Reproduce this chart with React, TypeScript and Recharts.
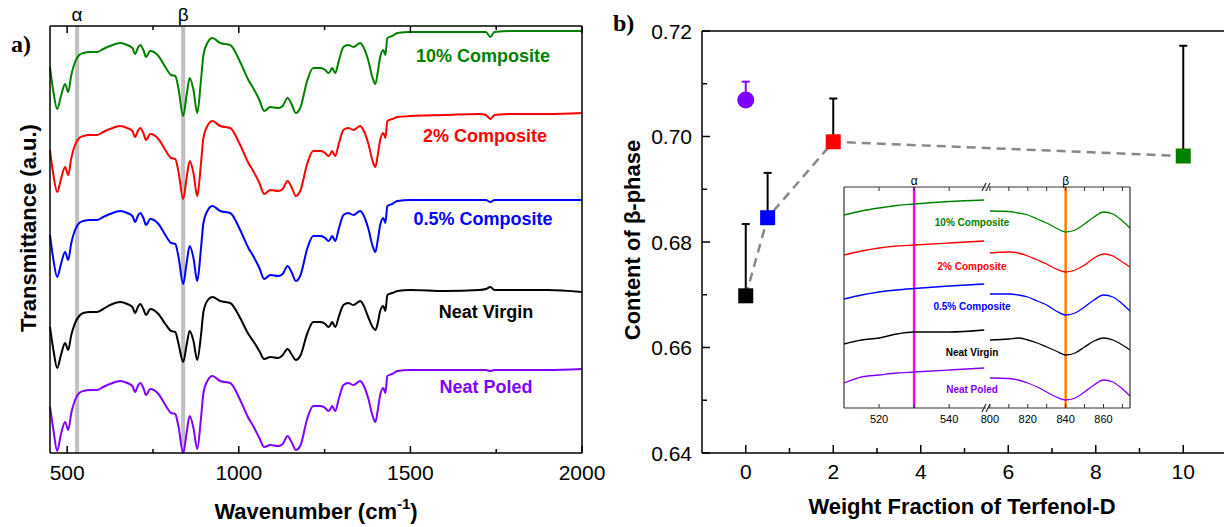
import React from 'react';
import {
  LineChart,
  Line,
  XAxis,
  YAxis,
  ReferenceArea,
  ReferenceLine,
  Label,
  ScatterChart,
  Scatter,
  ErrorBar,
} from 'recharts';

const SANS = '"Liberation Sans", Arial, Helvetica, sans-serif';
const SERIF = '"Liberation Serif", "Times New Roman", serif';

// ---- panel a: FTIR spectra (stacked, arbitrary units) ----
const wavenumbers = [
  450, 460, 471, 482, 494, 503, 512, 523, 535, 547,
  567, 587, 605, 625, 655, 675, 690, 698, 706, 713,
  722, 730, 742, 766, 786, 803, 815, 824, 838, 848,
  857, 868, 879, 890, 897, 910, 923, 946, 975, 1004,
  1028, 1042, 1060, 1074, 1092, 1115, 1128, 1142, 1155, 1166,
  1179, 1200, 1217, 1238, 1252, 1261, 1267, 1272, 1281, 1292,
  1305, 1319, 1334, 1354, 1363, 1377, 1390, 1398, 1405, 1412,
  1421, 1427, 1433, 1447, 1462, 1500, 1600, 1700, 1720, 1733,
  1745, 1800, 1900, 2000,
];

const composite10 = [
  386, 361, 344, 357, 369, 361, 378, 391, 398, 400,
  401, 401, 404, 407, 410, 408, 405, 399, 405, 408,
  403, 396, 402, 397, 386, 378, 377, 365, 337, 358,
  375, 363, 340, 373, 398, 411, 415, 410, 408, 391,
  373, 365, 353, 342, 346, 345, 347, 355, 348, 340,
  345, 373, 385, 385, 383, 380, 382, 385, 380, 393,
  406, 408, 406, 410, 406, 393, 375, 369, 381, 396,
  403, 398, 415, 417, 420, 421, 421, 421, 421, 416,
  421, 422, 422, 422,
];

const composite2 = [
  303, 278, 261, 274, 286, 278, 295, 308, 315, 317,
  318, 318, 321, 324, 327, 325, 322, 316, 322, 325,
  320, 313, 319, 314, 303, 295, 294, 282, 254, 275,
  292, 280, 257, 290, 315, 328, 332, 327, 325, 308,
  290, 282, 270, 259, 263, 262, 264, 272, 265, 257,
  262, 290, 302, 302, 300, 297, 299, 302, 297, 310,
  323, 325, 323, 327, 323, 310, 292, 286, 298, 313,
  320, 315, 332, 334, 336, 337, 338, 339, 338, 334,
  338, 339, 339, 340,
];

const composite05 = [
  218, 193, 176, 189, 201, 193, 210, 223, 230, 232,
  233, 233, 236, 239, 242, 240, 237, 231, 237, 240,
  235, 228, 234, 229, 218, 210, 209, 197, 169, 190,
  207, 195, 172, 205, 230, 243, 247, 242, 240, 223,
  205, 197, 185, 174, 178, 177, 179, 187, 180, 172,
  177, 205, 217, 217, 215, 212, 214, 217, 212, 225,
  238, 240, 238, 242, 238, 225, 207, 201, 213, 228,
  235, 230, 247, 249, 252, 253, 253, 253, 253, 251,
  253, 253, 253, 253,
];

const neatVirgin = [
  126, 103, 85, 98, 110, 103, 118, 130, 137, 140,
  141, 141, 144, 148, 151, 149, 146, 140, 146, 149,
  144, 138, 144, 139, 129, 122, 121, 110, 91, 108,
  122, 112, 93, 118, 141, 153, 156, 152, 150, 135,
  119, 112, 102, 94, 96, 95, 98, 104, 98, 93,
  97, 120, 131, 131, 129, 126, 128, 131, 126, 137,
  148, 150, 148, 152, 148, 136, 126, 123, 130, 142,
  147, 142, 158, 160, 162, 163, 162, 163, 164, 166,
  163, 163, 163, 161,
];

const neatPoled = [
  46, 23, 2, 19, 31, 23, 40, 53, 60, 62,
  63, 63, 66, 69, 72, 70, 67, 61, 67, 70,
  65, 58, 64, 59, 48, 40, 39, 27, 0, 20,
  37, 25, 4, 35, 60, 73, 77, 72, 70, 53,
  35, 27, 15, 6, 8, 7, 9, 17, 10, 3,
  7, 35, 47, 47, 45, 42, 44, 47, 42, 55,
  68, 70, 68, 72, 68, 55, 37, 31, 43, 58,
  65, 60, 77, 79, 82, 83, 83, 83, 83, 82,
  83, 83, 83, 84,
];

const ftirTicks = [500, 750, 1000, 1250, 1500, 1750, 2000];

// ---- inset: zoom on the alpha / beta bands ----
const insetLeftWn = [510, 515, 520, 525, 530, 540, 550];
const insetLeft10 = [193, 197, 200, 202.5, 204, 206.5, 208];
const insetLeft2 = [153, 157, 160, 162, 163, 165, 167];
const insetLeft05 = [109, 113, 116, 118, 119.5, 122, 124];
const insetLeftVirgin = [64, 68, 70, 74, 76, 76, 78];
const insetLeftPoled = [25, 31, 33, 35, 36, 38, 40];

const insetRightWn = [800, 810, 815, 820, 825, 830, 835, 840, 845, 850, 855, 860, 865, 870, 874];
const insetRight10 = [197, 196.5, 195, 193, 189, 185, 180, 176, 178, 184, 191, 196, 194, 187, 180];
const insetRight2 = [155, 156, 155, 152, 148, 144, 139, 136, 138, 143, 150, 154, 152, 146, 141];
const insetRight05 = [114, 114, 113, 111, 107, 103, 97, 93, 95, 101, 108, 113, 111, 104, 97];
const insetRightVirgin = [68, 69, 70, 68, 65, 61, 57, 53, 55, 61, 67, 70, 68, 63, 58];
const insetRightPoled = [30, 29.5, 28, 25, 21, 16, 11, 8, 10, 16, 23, 28, 26, 19, 12];

const insetLeftTicks = [520, 530, 540];
const insetRightTicks = [800, 810, 820, 830, 840, 850, 860, 870];

// ---- panel b: beta-phase content ----
const sampleNames = ['Neat Poled', 'Neat Virgin', '0.5% Composite', '2% Composite', '10% Composite'];
const weightFraction = [0, 0, 0.5, 2, 10];
const betaContent = [0.7069, 0.6698, 0.6846, 0.699, 0.6963];
const betaError = [0.0035, 0.0136, 0.0085, 0.0082, 0.0209];

const fracTicks = [0, 1, 2, 3, 4, 5, 6, 7, 8, 9, 10];
const betaTicks = [0.64, 0.65, 0.66, 0.67, 0.68, 0.69, 0.7, 0.71, 0.72];

const keys = ['c10', 'c2', 'c05', 'virgin', 'poled'];
const colors: Record<string, string> = {
  c10: '#008000',
  c2: '#ff0000',
  c05: '#0000ff',
  virgin: '#000000',
  poled: '#8000ff',
};
const nameColors: Record<string, string> = {
  'Neat Poled': '#8000ff',
  'Neat Virgin': '#000000',
  '0.5% Composite': '#0000ff',
  '2% Composite': '#ff0000',
  '10% Composite': '#008000',
};

const ftirRows = wavenumbers.map((wn, i) => ({
  wn,
  c10: composite10[i],
  c2: composite2[i],
  c05: composite05[i],
  virgin: neatVirgin[i],
  poled: neatPoled[i],
}));

const insetLeftRows = insetLeftWn.map((wn, i) => ({
  wn,
  c10: insetLeft10[i],
  c2: insetLeft2[i],
  c05: insetLeft05[i],
  virgin: insetLeftVirgin[i],
  poled: insetLeftPoled[i],
}));

const insetRightRows = insetRightWn.map((wn, i) => ({
  wn,
  c10: insetRight10[i],
  c2: insetRight2[i],
  c05: insetRight05[i],
  virgin: insetRightVirgin[i],
  poled: insetRightPoled[i],
}));

const sampleRows = sampleNames.map((name, i) => ({
  name,
  x: weightFraction[i],
  y: betaContent[i],
  err: [0, betaError[i]],
}));
// dashed guide joins the Terfenol-D series (everything but the poled film)
const trendRows = sampleRows.filter((r) => r.name !== 'Neat Poled');

type Side = 'bottom' | 'top' | 'left' | 'right';
interface TickOpts {
  major: number;
  minor: number;
  format?: (v: number) => string;
  fontSize?: number;
  gap?: number;
  color?: string;
  width?: number;
}

// inward ticks, labels only on the major ones
const makeTick = (side: Side, isMajor: (v: number) => boolean, opts: TickOpts) => (props: any) => {
  const { x, y, payload } = props;
  const v = payload.value as number;
  const major = isMajor(v);
  const len = major ? opts.major : opts.minor;
  let x2 = x;
  let y2 = y;
  if (side === 'bottom') y2 = y - len;
  if (side === 'top') y2 = y + len;
  if (side === 'left') x2 = x + len;
  if (side === 'right') x2 = x - len;
  const fs = opts.fontSize ?? 21;
  let label = null;
  if (opts.format && major) {
    if (side === 'bottom') {
      label = (
        <text x={x} y={y + (opts.gap ?? 27)} textAnchor="middle" fontSize={fs} fontFamily={SANS} fill="#000">
          {opts.format(v)}
        </text>
      );
    }
    if (side === 'left') {
      label = (
        <text x={x - (opts.gap ?? 10)} y={y + fs * 0.36} textAnchor="end" fontSize={fs} fontFamily={SANS} fill="#000">
          {opts.format(v)}
        </text>
      );
    }
  }
  return (
    <g>
      <line x1={x} y1={y} x2={x2} y2={y2} stroke={opts.color ?? '#000'} strokeWidth={opts.width ?? 1.5} />
      {label}
    </g>
  );
};

const AXIS = { stroke: '#000', strokeWidth: 1.5 };
const INSET_AXIS = { stroke: '#333', strokeWidth: 1.2 };

const isFtirMajor = (v: number) => v % 500 === 0;
const isFracMajor = (v: number) => v % 2 === 0;
const isBetaMajor = (v: number) => Math.round(v * 100) % 2 === 0;
const isInsetMajor = (v: number) => v % 20 === 0;

const SquareShape = (color: string) => (p: any) => (
  <rect x={p.cx - 7.5} y={p.cy - 7.5} width={15} height={15} fill={color} />
);
const CircleShape = (color: string) => (p: any) => <circle cx={p.cx} cy={p.cy} r={8.5} fill={color} />;

const seriesLabels = [
  { text: '10% Composite', x: 483, y: 62 },
  { text: '2% Composite', x: 485, y: 142 },
  { text: '0.5% Composite', x: 483, y: 225 },
  { text: 'Neat Virgin', x: 486, y: 318 },
  { text: 'Neat Poled', x: 486, y: 393 },
];
const insetLabels = [
  { text: '10% Composite', y: 226 },
  { text: '2% Composite', y: 270 },
  { text: '0.5% Composite', y: 310 },
  { text: 'Neat Virgin', y: 356 },
  { text: 'Neat Poled', y: 393 },
];

const SpectraPanel = () => (
  <div style={{ position: 'absolute', left: 0, top: 0 }}>
    <LineChart width={620} height={527} data={ftirRows} margin={{ top: 16, right: 28, bottom: 34, left: 40 }}>
      <XAxis
        dataKey="wn"
        type="number"
        domain={[450, 2000]}
        ticks={ftirTicks}
        interval={0}
        height={40}
        tickSize={0}
        tickMargin={0}
        tickLine={false}
        axisLine={AXIS}
        tick={makeTick('bottom', isFtirMajor, { major: 7, minor: 4, format: (v) => String(v) })}
      />
      <XAxis
        xAxisId="top"
        dataKey="wn"
        orientation="top"
        type="number"
        domain={[450, 2000]}
        ticks={ftirTicks}
        interval={0}
        height={10}
        tickSize={0}
        tickMargin={0}
        tickLine={false}
        axisLine={AXIS}
        tick={makeTick('top', isFtirMajor, { major: 7, minor: 4 })}
      />
      <YAxis type="number" domain={[0, 427]} width={10} tick={false} tickLine={false} axisLine={AXIS} />
      <YAxis
        yAxisId="right"
        orientation="right"
        type="number"
        domain={[0, 427]}
        width={10}
        tick={false}
        tickLine={false}
        axisLine={AXIS}
      />
      <ReferenceArea x1={523} x2={535} fill="#c0c0c0" fillOpacity={1} stroke="none">
        <Label value="α" position="top" offset={5} fontSize={19} fontFamily={SANS} fill="#000" />
      </ReferenceArea>
      <ReferenceArea x1={832} x2={844} fill="#c0c0c0" fillOpacity={1} stroke="none">
        <Label value="β" position="top" offset={5} fontSize={19} fontFamily={SANS} fill="#000" />
      </ReferenceArea>
      {keys.map((k) => (
        <Line
          key={k}
          dataKey={k}
          type="monotone"
          stroke={colors[k]}
          strokeWidth={2}
          dot={false}
          isAnimationActive={false}
        />
      ))}
    </LineChart>
  </div>
);

const ContentPanel = () => (
  <div style={{ position: 'absolute', left: 600, top: 0 }}>
    <ScatterChart width={628} height={527} margin={{ top: 21, right: 0, bottom: 34, left: 92 }}>
      <XAxis
        dataKey="x"
        type="number"
        domain={[-1, 11]}
        ticks={fracTicks}
        interval={0}
        height={40}
        tickSize={0}
        tickMargin={0}
        tickLine={false}
        axisLine={AXIS}
        tick={makeTick('bottom', isFracMajor, { major: 8, minor: 5, format: (v) => String(v), gap: 26 })}
      />
      <XAxis
        xAxisId="top"
        dataKey="x"
        orientation="top"
        type="number"
        domain={[-1, 11]}
        ticks={fracTicks}
        interval={0}
        height={10}
        tickSize={0}
        tickMargin={0}
        tickLine={false}
        axisLine={AXIS}
        tick={makeTick('top', isFracMajor, { major: 8, minor: 5 })}
      />
      <YAxis
        dataKey="y"
        type="number"
        domain={[0.64, 0.72]}
        ticks={betaTicks}
        interval={0}
        width={10}
        tickSize={0}
        tickMargin={0}
        tickLine={false}
        axisLine={AXIS}
        tick={makeTick('left', isBetaMajor, { major: 8, minor: 5, format: (v) => v.toFixed(2) })}
      />
      <YAxis
        yAxisId="right"
        orientation="right"
        dataKey="y"
        type="number"
        domain={[0.64, 0.72]}
        ticks={betaTicks}
        interval={0}
        width={1}
        tickSize={0}
        tickMargin={0}
        tickLine={false}
        axisLine={AXIS}
        tick={makeTick('right', isBetaMajor, { major: 8, minor: 5 })}
      />
      <Scatter
        data={trendRows}
        line={{ stroke: '#888888', strokeWidth: 2.5, strokeDasharray: '9 6' }}
        shape={() => <g />}
        isAnimationActive={false}
      />
      {sampleRows.map((r) => (
        <Scatter
          key={r.name}
          data={[r]}
          shape={r.name === 'Neat Poled' ? CircleShape(nameColors[r.name]) : SquareShape(nameColors[r.name])}
          isAnimationActive={false}
        >
          <ErrorBar
            dataKey="err"
            direction="y"
            width={4}
            stroke={r.name === 'Neat Poled' ? '#8000ff' : '#000'}
            strokeWidth={2}
          />
        </Scatter>
      ))}
    </ScatterChart>
  </div>
);

const insetTickOpts = { major: 4, minor: 4, fontSize: 11, gap: 15, color: '#333', width: 1 };

const Inset = () => (
  <>
    <div style={{ position: 'absolute', left: 834, top: 172 }}>
      <LineChart width={152} height={261} data={insetLeftRows} margin={{ top: 10, right: 0, bottom: 0, left: 5 }}>
        <XAxis
          dataKey="wn"
          type="number"
          domain={[510, 550.5]}
          ticks={insetLeftTicks}
          interval={0}
          height={25}
          tickSize={0}
          tickMargin={0}
          tickLine={false}
          axisLine={INSET_AXIS}
          tick={makeTick('bottom', isInsetMajor, { ...insetTickOpts, format: (v) => String(v) })}
        />
        <XAxis
          xAxisId="top"
          dataKey="wn"
          orientation="top"
          type="number"
          domain={[510, 550.5]}
          ticks={insetLeftTicks}
          interval={0}
          height={5}
          tickSize={0}
          tickMargin={0}
          tickLine={false}
          axisLine={INSET_AXIS}
          tick={makeTick('top', isInsetMajor, insetTickOpts)}
        />
        <YAxis type="number" domain={[0, 221]} width={5} tick={false} tickLine={false} axisLine={INSET_AXIS} />
        <ReferenceLine x={530} stroke="#ff00ff" strokeWidth={2.5}>
          <Label value="α" position="top" offset={2} fontSize={12} fontFamily={SANS} fill="#000" />
        </ReferenceLine>
        {keys.map((k) => (
          <Line
            key={k}
            dataKey={k}
            type="monotone"
            stroke={colors[k]}
            strokeWidth={1.3}
            dot={false}
            isAnimationActive={false}
          />
        ))}
      </LineChart>
    </div>
    <div style={{ position: 'absolute', left: 978, top: 172 }}>
      <LineChart width={162} height={261} data={insetRightRows} margin={{ top: 10, right: 5, bottom: 0, left: 10 }}>
        <XAxis
          dataKey="wn"
          type="number"
          domain={[799, 874]}
          ticks={insetRightTicks}
          interval={0}
          height={25}
          tickSize={0}
          tickMargin={0}
          tickLine={false}
          axisLine={INSET_AXIS}
          tick={makeTick('bottom', isInsetMajor, { ...insetTickOpts, format: (v) => String(v) })}
        />
        <XAxis
          xAxisId="top"
          dataKey="wn"
          orientation="top"
          type="number"
          domain={[799, 874]}
          ticks={insetRightTicks}
          interval={0}
          height={5}
          tickSize={0}
          tickMargin={0}
          tickLine={false}
          axisLine={INSET_AXIS}
          tick={makeTick('top', isInsetMajor, insetTickOpts)}
        />
        <YAxis type="number" domain={[0, 221]} hide />
        <YAxis
          yAxisId="right"
          orientation="right"
          type="number"
          domain={[0, 221]}
          width={5}
          tick={false}
          tickLine={false}
          axisLine={INSET_AXIS}
        />
        <ReferenceLine x={840} stroke="#ff8000" strokeWidth={2.5}>
          <Label value="β" position="top" offset={2} fontSize={12} fontFamily={SANS} fill="#000" />
        </ReferenceLine>
        {keys.map((k) => (
          <Line
            key={k}
            dataKey={k}
            type="monotone"
            stroke={colors[k]}
            strokeWidth={1.3}
            dot={false}
            isAnimationActive={false}
          />
        ))}
      </LineChart>
    </div>
  </>
);

const Annotations = () => (
  <svg
    width={1224}
    height={527}
    style={{ position: 'absolute', left: 0, top: 0, pointerEvents: 'none' }}
  >
    <text x={11} y={52} fontFamily={SERIF} fontWeight="bold" fontSize={24} fill="#000">
      a)
    </text>
    <text x={613} y={31} fontFamily={SERIF} fontWeight="bold" fontSize={24} fill="#000">
      b)
    </text>
    <text
      transform="translate(36 228) rotate(-90)"
      textAnchor="middle"
      fontFamily={SANS}
      fontWeight="bold"
      fontSize={22}
      fill="#000"
    >
      Transmittance (a.u.)
    </text>
    <text x={316} y={519} textAnchor="middle" fontFamily={SANS} fontWeight="bold" fontSize={22} fill="#000">
      Wavenumber (cm
      <tspan fontSize={15} dy={-10}>
        -1
      </tspan>
      <tspan dy={10}>)</tspan>
    </text>
    <text
      transform="translate(640 240) rotate(-90)"
      textAnchor="middle"
      fontFamily={SANS}
      fontWeight="bold"
      fontSize={22}
      fill="#000"
    >
      Content of β-phase
    </text>
    <text x={962} y={514} textAnchor="middle" fontFamily={SANS} fontWeight="bold" fontSize={22} fill="#000">
      Weight Fraction of Terfenol-D
    </text>
    {seriesLabels.map((s) => (
      <text
        key={s.text}
        x={s.x}
        y={s.y}
        textAnchor="middle"
        fontFamily={SANS}
        fontWeight="bold"
        fontSize={18}
        fill={nameColors[s.text]}
      >
        {s.text}
      </text>
    ))}
    {insetLabels.map((s) => (
      <text
        key={s.text}
        x={972}
        y={s.y}
        textAnchor="middle"
        fontFamily={SANS}
        fontWeight="bold"
        fontSize={10}
        fill={nameColors[s.text]}
      >
        {s.text}
      </text>
    ))}
    {/* axis break marks */}
    <g stroke="#333" strokeWidth={1.2}>
      <line x1={982} y1={191} x2={986} y2={183} />
      <line x1={986} y1={191} x2={990} y2={183} />
      <line x1={982} y1={412} x2={986} y2={404} />
      <line x1={986} y1={412} x2={990} y2={404} />
    </g>
  </svg>
);

const App = () => (
  <div
    style={{
      position: 'fixed',
      left: 0,
      top: 0,
      width: 1224,
      height: 527,
      overflow: 'hidden',
      background: '#fff',
      fontFamily: SANS,
    }}
  >
    <SpectraPanel />
    <ContentPanel />
    <Inset />
    <Annotations />
  </div>
);

export default App;
